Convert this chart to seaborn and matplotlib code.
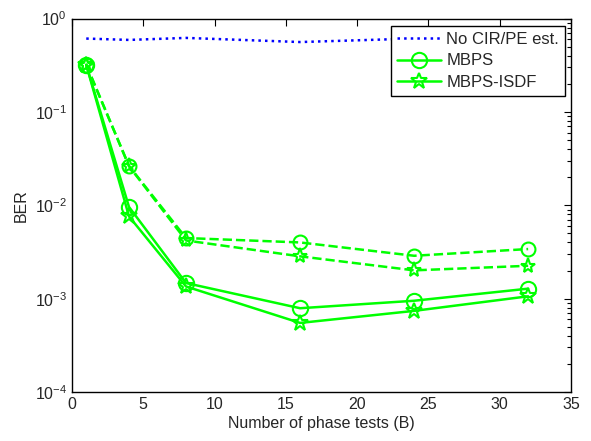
import numpy as np
import pandas as pd
import matplotlib
matplotlib.use("Agg")
import matplotlib.pyplot as plt
import seaborn as sns
from matplotlib.lines import Line2D

sns.set_style("white")
plt.rcParams['font.family'] = ['Liberation Sans', 'DejaVu Sans']
plt.rcParams['mathtext.fontset'] = 'custom'
plt.rcParams['mathtext.rm'] = 'Liberation Sans'
plt.rcParams['mathtext.it'] = 'Liberation Sans'

B = [1, 4, 8, 16, 24, 32]
no_est = [0.61, 0.59, 0.62, 0.56, 0.61, 0.62]
mbps_solid = [0.32, 0.0096, 0.00147, 0.00079, 0.00095, 0.00128]
isdf_solid = [0.32, 0.0076, 0.00135, 0.00055, 0.00074, 0.00106]
mbps_dash = [0.32, 0.0264, 0.00446, 0.0040, 0.00288, 0.0034]
isdf_dash = [0.32, 0.0262, 0.0042, 0.00284, 0.00201, 0.00225]

GREEN = (0, 1, 0)
BLUE = (0, 0, 1)
FS = 11.5

fig = plt.figure(figsize=(5.91, 4.41), dpi=100)
ax = fig.add_axes([0.1218, 0.111, 0.8442, 0.847])

def draw(y, ls, marker, color, lw=1.8, ms=9):
    df = pd.DataFrame({"B": B, "BER": y})
    sns.lineplot(data=df, x="B", y="BER", ax=ax, color=color, linestyle=ls,
                 marker=marker, markersize=ms, markerfacecolor='none',
                 markeredgecolor=color, markeredgewidth=1.5, linewidth=lw,
                 legend=False)

df0 = pd.DataFrame({"B": B, "BER": no_est})
sns.lineplot(data=df0, x="B", y="BER", ax=ax, color=BLUE, linestyle=':',
             linewidth=1.8, legend=False)
draw(mbps_solid, '-', 'o', GREEN, ms=11)
draw(isdf_solid, '-', '*', GREEN, ms=12)
draw(mbps_dash, '--', 'o', GREEN, ms=10)
draw(isdf_dash, '--', '*', GREEN, ms=11)

ax.set_yscale('log')
ax.set_xlim(0, 35)
ax.set_ylim(1e-4, 1e0)
ax.set_xticks([0, 5, 10, 15, 20, 25, 30, 35])
ax.set_xlabel("Number of phase tests (B)", fontsize=FS, labelpad=3)
ax.set_ylabel("BER", fontsize=FS, labelpad=4)
ax.tick_params(axis='both', which='both', direction='in', top=True, right=True,
               labelsize=FS, color='black')
ax.tick_params(axis='both', which='major', length=5, width=0.8)
ax.tick_params(axis='both', which='minor', length=3, width=0.8)
for s in ax.spines.values():
    s.set_color('black')
    s.set_linewidth(1.0)

handles = [
    Line2D([], [], color=BLUE, linestyle=':', linewidth=1.8),
    Line2D([], [], color=GREEN, linestyle='-', marker='o', markersize=11,
           markerfacecolor='none', markeredgewidth=1.5, linewidth=1.8),
    Line2D([], [], color=GREEN, linestyle='-', marker='*', markersize=12,
           markerfacecolor='none', markeredgewidth=1.5, linewidth=1.8),
]
leg = ax.legend(handles, ["No CIR/PE est.", "MBPS", "MBPS-ISDF"],
                loc='upper right', bbox_to_anchor=(0.988, 0.98), fontsize=12,
                frameon=True, fancybox=False, framealpha=1, edgecolor='black',
                handlelength=2.6, borderpad=0.35, labelspacing=0.4,
                handletextpad=0.35, borderaxespad=0.0)
leg.get_frame().set_linewidth(1.0)

fig.savefig("out.png", dpi=100)
